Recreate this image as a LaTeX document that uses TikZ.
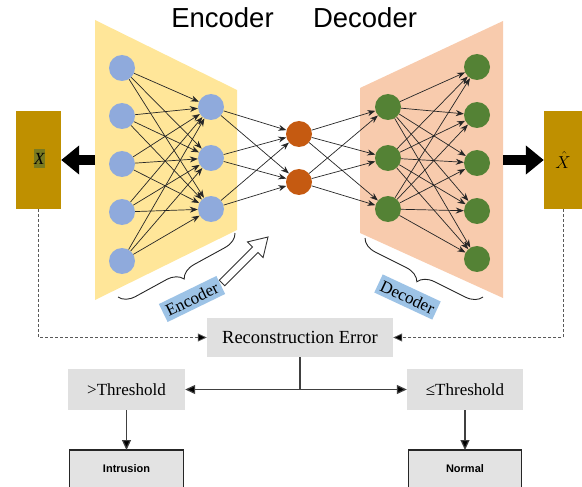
\documentclass[tikz,border=0pt]{standalone}
\usepackage{fontspec}
\setmainfont{Liberation Serif}
\newfontfamily\headfont{Liberation Sans}
\usetikzlibrary{arrows.meta,decorations.pathreplacing}

\definecolor{encfill}{HTML}{FFE699}
\definecolor{decfill}{HTML}{F8CBAD}
\definecolor{inblue}{HTML}{8FAADC}
\definecolor{latentor}{HTML}{C55A11}
\definecolor{outgreen}{HTML}{548235}
\definecolor{gold}{HTML}{BF9000}
\definecolor{olivehl}{RGB}{122,122,32}
\definecolor{tagblue}{HTML}{9DC3E6}
\definecolor{boxgray}{HTML}{E0E0E0}
\definecolor{linegray}{HTML}{404040}

\begin{document}
\begin{tikzpicture}[x=1pt,y=-1pt,
  neuron/.style={circle,minimum size=26pt,inner sep=0pt},
  inneuron/.style={neuron,fill=inblue},
  latneuron/.style={neuron,fill=latentor},
  outneuron/.style={neuron,fill=outgreen},
  conn/.style={draw=black!85,line width=0.7pt,-{Stealth[length=8pt,width=6pt]}},
  header/.style={font=\headfont\fontsize{27.5}{30}\selectfont,inner sep=0pt},
  goldbox/.style={fill=gold,minimum height=98pt,inner sep=0pt},
  bigarrow/.style={line width=10pt,-{Triangle[length=18pt,width=28pt]}},
  tag/.style={fill=tagblue,minimum width=64pt,minimum height=20pt,inner sep=0pt,
    font=\fontsize{17}{17}\selectfont},
  bracestyle/.style={draw=black!85,line width=0.9pt,decorate,
    decoration={brace,amplitude=16pt}},
  graybox/.style={fill=boxgray,inner sep=0pt},
  dasharrow/.style={draw=black!65,line width=0.8pt,dash pattern=on 3pt off 2pt,
    -{Triangle[length=9pt,width=8pt,fill=black]}},
  flow/.style={draw=linegray,line width=1.2pt},
  flowarrow/.style={flow,-{Triangle[length=10pt,width=9pt,fill=black]}},
  endbox/.style={fill=boxgray!90!white,minimum width=113pt,minimum height=37pt,
    inner sep=0pt,font=\headfont\bfseries\fontsize{11}{13}\selectfont},
  endborder/.style={draw=black!85,line width=1.3pt}
]
\useasboundingbox (0,0) rectangle (582,487);

% layer panels
\fill[encfill] (95,20) -- (237,90) -- (237,230) -- (95,300) -- cycle;
\fill[decfill] (360,88) -- (503,21) -- (503,298) -- (360,233) -- cycle;

% titles
\node[header,anchor=base] (enchead) at (222.5,28) {Encoder};
\node[header,anchor=base] (dechead) at (365,28) {Decoder};

% neurons
\foreach \y [count=\i] in {68,116,164,212,261} \node[inneuron] (e\i) at (122,\y) {};
\foreach \y [count=\i] in {107,158,209} \node[inneuron] (h\i) at (211,\y) {};
\foreach \y [count=\i] in {134,182} \node[latneuron] (z\i) at (299,\y) {};
\foreach \y [count=\i] in {107,158,209} \node[outneuron] (d\i) at (388,\y) {};
\foreach \y [count=\i] in {67,115,163,211,259} \node[outneuron] (o\i) at (477,\y) {};

% weights
\foreach \i in {1,...,5} \foreach \j in {1,2,3} \draw[conn] (e\i) -- (h\j);
\foreach \i in {1,2,3} \foreach \j in {1,2} \draw[conn] (h\i) -- (z\j);
\foreach \i in {1,2} \foreach \j in {1,2,3} \draw[conn] (z\i) -- (d\j);
\foreach \i in {1,2,3} \foreach \j in {1,...,5} \draw[conn] (d\i) -- (o\j);

% input and reconstruction
\node[goldbox,minimum width=45pt] (xin) at (38.5,160) {};
\node[fill=olivehl,minimum width=11pt,minimum height=19pt,inner sep=0pt,
  font=\fontsize{17}{17}\selectfont] (xlab) at (39.5,159) {\textit{X}};
\node[goldbox,minimum width=38pt,font=\fontsize{17}{17}\selectfont] (xhat) at (563,160) {$\hat{X}$};

\coordinate (encedge) at (95,160);
\coordinate (decedge) at (503,160);
\draw[bigarrow] (encedge) -- (xin.east);
\draw[bigarrow] (decedge) -- (xhat.west);

% braces, hollow arrow and tags
\draw[bracestyle] (235,233) -- (118,297);
\draw[bracestyle] (483,297) -- (365,238);
\draw[draw=black!80,fill=white,line width=0.9pt,line join=miter]
  (219.2,280.2) -- (252.5,246.9) -- (247.5,241.9) -- (268,237)
  -- (263.1,257.5) -- (258.1,252.5) -- (224.8,285.8) -- cycle;
\node[tag,rotate=26] (enctag) at (192,299) {Encoder};
\node[tag,rotate=-25] (dectag) at (407.5,297) {Decoder};

% decision part
\node[graybox,minimum width=186pt,minimum height=39pt,
  font=\fontsize{18.5}{20}\selectfont] (rec) at (300,337.5) {Reconstruction Error};
\node[graybox,minimum width=117pt,minimum height=41pt,
  font=\fontsize{17}{19}\selectfont] (gt) at (126.5,389.5) {>Threshold};
\node[graybox,minimum width=116pt,minimum height=41pt,
  font=\fontsize{17}{19}\selectfont] (le) at (465,389.5) {≤Threshold};

\draw[dasharrow] (xin.south) |- (rec.west);
\draw[dasharrow] (xhat.south) |- (rec.east);

\coordinate (split) at (rec.south |- gt.east);
\draw[flow] (rec.south) -- (split);
\draw[flowarrow] (split) -- (gt.east);
\draw[flowarrow] (split) -- (le.west);

\node[endbox,anchor=north] (intr) at (126.5,450) {Intrusion};
\node[endbox,anchor=north] (norm) at (465,450) {Normal};
\draw[endborder] (intr.south west) -- (intr.north west) -- (intr.north east) -- (intr.south east);
\draw[endborder] (norm.south west) -- (norm.north west) -- (norm.north east) -- (norm.south east);

\draw[flowarrow] (gt.south) -- (intr.north);
\draw[flowarrow] (le.south) -- (norm.north);
\end{tikzpicture}
\end{document}
